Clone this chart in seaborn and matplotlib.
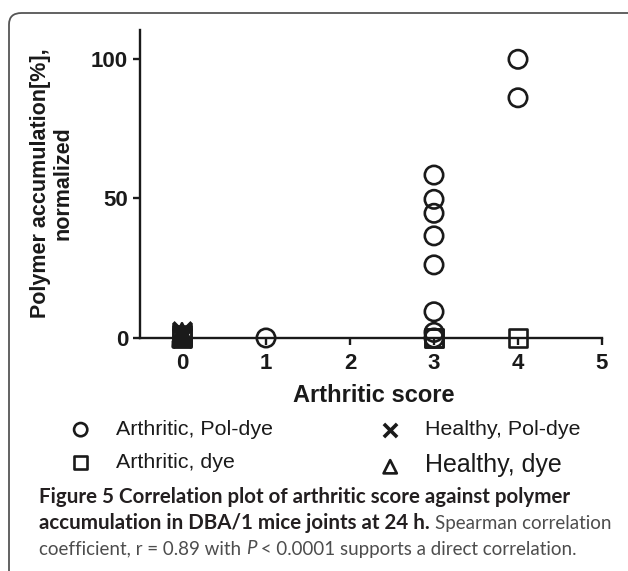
import matplotlib
matplotlib.use("Agg")
import matplotlib.pyplot as plt
from matplotlib.patches import FancyBboxPatch
import pandas as pd
import seaborn as sns

# values (arthritic score vs normalized accumulation %)
art_pol_score = [1, 3, 3, 3, 3, 3, 3, 3, 3, 4, 4]
art_pol_value = [0, 58.4, 49.7, 44.7, 36.6, 26.2, 9.4, 2.0, 0, 99.9, 86.1]
art_dye_score = [0, 0, 3, 3, 4]
art_dye_value = [0, 1.0, 0, 0, 0]
hlt_pol_score = [0, 0, 0, 0, 0, 0, 0, 0]
hlt_pol_value = [0, 0.3, 0.7, 1.0, 1.4, 1.8, 2.2, 2.6]
hlt_dye_score = [0, 0, 0, 0, 0, 0]
hlt_dye_value = [0, 0.3, 0.6, 1.0, 1.5, 2.0]

groups = ['Arthritic, Pol-dye', 'Arthritic, dye', 'Healthy, Pol-dye', 'Healthy, dye']
markers = {'Arthritic, Pol-dye': 'o', 'Arthritic, dye': 's',
           'Healthy, Pol-dye': 'x', 'Healthy, dye': '^'}

df = pd.concat([
    pd.DataFrame({'score': art_pol_score, 'value': art_pol_value, 'group': groups[0]}),
    pd.DataFrame({'score': art_dye_score, 'value': art_dye_value, 'group': groups[1]}),
    pd.DataFrame({'score': hlt_pol_score, 'value': hlt_pol_value, 'group': groups[2]}),
    pd.DataFrame({'score': hlt_dye_score, 'value': hlt_dye_value, 'group': groups[3]}),
])

sns.set_style(style='white')
plt.rcParams['font.family'] = ['Liberation Sans', 'DejaVu Sans']

ink = '#1a1a1a'
fig = plt.figure(figsize=(6.28, 5.71), dpi=100)
W, H = 628, 571
ax = fig.add_axes([140 / W, 1 - 360.3 / H, 462 / W, 330.3 / H])

for g in groups:
    sub = df[df['group'] == g]
    if markers[g] == 'x':
        # line-art marker: colour comes from the face colour
        sns.scatterplot(data=sub, x='score', y='value', marker='x', s=175,
                        color=ink, linewidth=2.6, label=g, ax=ax, zorder=3)
    else:
        sns.scatterplot(data=sub, x='score', y='value', marker=markers[g], s=175,
                        facecolor='none', edgecolor=ink, linewidth=1.9,
                        label=g, ax=ax, zorder=3)

ax.set_xlim(-0.5, 5.0)
ax.set_ylim(-8, 110.4)
ax.set_xticks([0, 1, 2, 3, 4, 5])
ax.set_yticks([0, 50, 100])
for sp in ['top', 'right']:
    ax.spines[sp].set_visible(False)
ax.spines['bottom'].set_position(('data', 0))
ax.spines['left'].set_bounds(0, 110.4)
for sp in ['left', 'bottom']:
    ax.spines[sp].set_linewidth(1.7)
    ax.spines[sp].set_color(ink)
ax.tick_params(direction='out', length=5, width=1.7, color=ink,
               labelsize=16, labelcolor=ink)
ax.tick_params(axis='x', pad=6, bottom=True)
ax.tick_params(axis='y', pad=3.5, left=True)
for lab in ax.get_xticklabels() + ax.get_yticklabels():
    lab.set_fontweight('bold')

ax.set_xlabel('Arthritic score', fontsize=17, fontweight='bold', color=ink, va='center')
ax.xaxis.set_label_coords(0.506, -0.107)
ax.set_ylabel('Polymer accumulation[%],\nnormalized', fontsize=15.5, fontweight='bold',
              color=ink, va='center', linespacing=1.1)
ax.yaxis.set_label_coords(-0.1916, 0.537)

# legend below the axes, two columns
handles, labels = ax.get_legend_handles_labels()
leg = ax.legend(handles, labels, ncol=2, loc='upper left', frameon=False,
                bbox_to_anchor=(48.6 / W, 1 - 401 / H), bbox_transform=fig.transFigure,
                fontsize=15.4, markerscale=0.72, handlelength=1.2, handletextpad=1.03,
                columnspacing=4.9, labelspacing=0.66)
leg.get_texts()[3].set_fontsize(18)
for t in leg.get_texts():
    t.set_color(ink)

# rounded frame around the figure
frame = FancyBboxPatch((9 / W, -0.1), 1.2, 1.1 - 13 / H,
                       boxstyle='round,pad=0,rounding_size=0.02',
                       transform=fig.transFigure, fc='none', ec='#555555', lw=1.3)
fig.patches.append(frame)

# caption, built piece by piece to mix weights
renderer = fig.canvas.get_renderer()


def caption_line(y_px, pieces):
    x = 39 / W
    for s, weight, style, color, size in pieces:
        t = fig.text(x, 1 - y_px / H, s, fontsize=size, family=['Lato', 'DejaVu Sans'],
                     fontweight=weight, fontstyle=style, color=color, va='center')
        x += t.get_window_extent(renderer).width / fig.bbox.width


dark = '#231f20'
grey = '#4d4d4d'
caption_line(497, [('Figure 5 Correlation plot of arthritic score against polymer', 'bold', 'normal', dark, 14.8)])
caption_line(523, [('accumulation in DBA/1 mice joints at 24 h. ', 'bold', 'normal', dark, 14.8),
                   ('Spearman correlation', 'normal', 'normal', grey, 13.5)])
caption_line(549, [('coefficient, r = 0.89 with ', 'normal', 'normal', grey, 13.5),
                   ('P', 'normal', 'italic', grey, 13.5),
                   (' < 0.0001 supports a direct correlation.', 'normal', 'normal', grey, 13.5)])

fig.savefig('out.png', dpi=100)
